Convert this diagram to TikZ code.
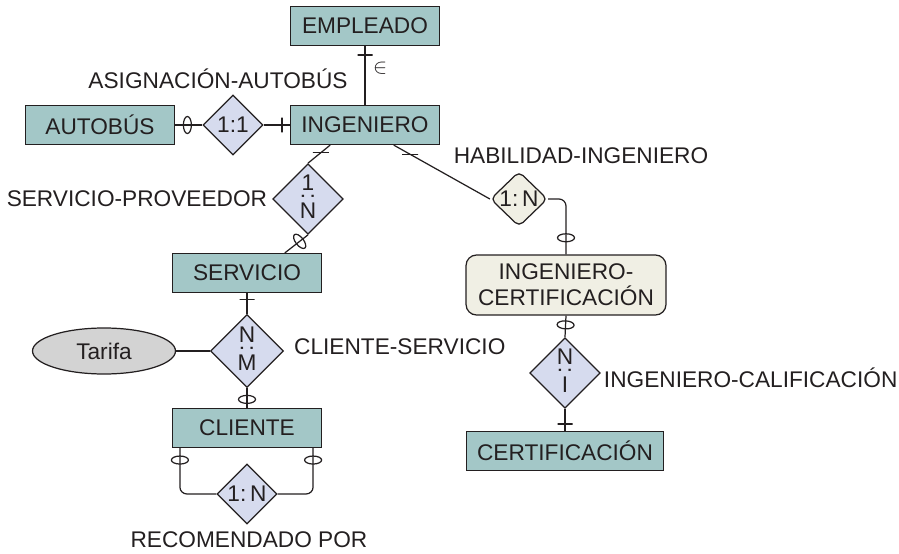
\documentclass[tikz,border=0pt]{standalone}
\usepackage{fontspec}
\setmainfont{Liberation Sans}
\usetikzlibrary{shapes.geometric,positioning}
\definecolor{entfill}{RGB}{163,199,199}
\definecolor{relfill}{RGB}{214,219,238}
\definecolor{assocfill}{RGB}{240,239,228}
\definecolor{attrfill}{RGB}{211,211,211}
\definecolor{inkc}{RGB}{35,31,32}
% ratio written top to bottom
\newcommand{\vratio}[2]{\begin{tabular}{@{}c@{}}#1\\[-9.8pt]\rotatebox{90}{:}\\[-4.4pt]#2\end{tabular}}
\tikzset{
  entity/.style={draw=inkc, fill=entfill, line width=0.7pt, minimum width=2.98cm, minimum height=0.78cm, inner sep=0pt},
  assoc/.style={draw=inkc, fill=assocfill, line width=0.7pt, rounded corners=6pt, align=center, minimum width=4cm, minimum height=1.2cm, inner sep=0pt},
  relation/.style={diamond, draw=inkc, fill=relfill, line width=0.7pt, minimum width=1.2cm, minimum height=1.2cm, inner sep=0pt},
  attribute/.style={ellipse, draw=inkc, fill=attrfill, line width=0.7pt, minimum width=2.86cm, minimum height=0.92cm, inner sep=0pt},
  rname/.style={inner sep=1pt},
  link/.style={draw=inkc, line width=0.7pt},
  onebar/.style={sloped, draw=inkc, line width=0.7pt, inner sep=0pt, minimum width=0pt, minimum height=0.3cm},
  flatbar/.style={draw=inkc, line width=0.7pt, inner sep=0pt, minimum width=0.32cm, minimum height=0pt},
  zeroring/.style={sloped, ellipse, draw=inkc, line width=0.7pt, inner sep=0pt, minimum width=0.16cm, minimum height=0.34cm},
}
\begin{document}
\begin{tikzpicture}[x=0.02cm, y=-0.02cm, font=\fontsize{12.9}{15}\selectfont, text=inkc]
  \useasboundingbox (0,0) rectangle (899,554);

  % Drawing entities
  \node[entity] (empleado) at (365,26) {EMPLEADO};
  \node[entity] (ingeniero) at (365,125) {INGENIERO};
  \node[entity] (autobus) at (100,125) {AUTOBÚS};
  \node[entity] (servicio) at (247,273) {SERVICIO};
  \node[entity] (cliente) at (247,428) {CLIENTE};
  \node[entity, minimum width=3.94cm] (certificacion) at (565,451) {CERTIFICACIÓN};
  \node[assoc] (ingcert) at (566,285) {INGENIERO-\\CERTIFICACIÓN};

  % Drawing relationships
  \node[relation] (asignacion) at (233,125) {1:1};
  \node[relation] (proveedor) at (308,199) {\vratio{1}{N}};
  \node[relation, fill=assocfill, rounded corners=3pt, minimum width=1.14cm, minimum height=1.1cm] (habilidad) at (519,199) {1:\,N};
  \node[relation] (calificacion) at (565,373) {\vratio{N}{I}};
  \node[relation] (clienteserv) at (247,351) {\vratio{N}{M}};
  \node[relation] (recomendado) at (247,494) {1:\,N};

  % Drawing attribute
  \node[attribute] (tarifa) at (104,351) {Tarifa};

  % Marking relationship names
  \node[rname] (asignacionlbl) at (218,79) {ASIGNACIÓN-AUTOBÚS};
  \node[rname, left=0.06cm of proveedor] (proveedorlbl) {SERVICIO-PROVEEDOR};
  \node[rname] (habilidadlbl) at (581,156) {HABILIDAD-INGENIERO};
  \node[rname, right=0.02cm of calificacion, yshift=-0.1cm] (calificacionlbl) {INGENIERO-CALIFICACIÓN};
  \node[rname, right=0.16cm of clienteserv, yshift=0.08cm] (clienteservlbl) {CLIENTE-SERVICIO};
  \node[rname] (recomendadolbl) at (249,540) {RECOMENDADO POR};

  % Drawing line empleado ingeniero
  \draw[link] (empleado.south) -- node[onebar, pos=0.15] {} node[pos=0.38, right=1pt] (inmark) {$\in$} (ingeniero.north);

  % Drawing line autobus asignacion ingeniero
  \draw[link] (autobus.east) -- node[zeroring, pos=0.45] {} (asignacion.west);
  \draw[link] (asignacion.east) -- node[onebar, pos=0.7] {} (ingeniero.west);

  % Drawing line ingeniero proveedor servicio
  \draw[link] (ingeniero.210) -- node[flatbar, pos=0.42] {} (proveedor.north);
  \draw[link] (proveedor.south) -- node[zeroring, pos=0.36] {} (servicio.28);

  % Drawing line ingeniero habilidad ingcert
  \draw[link] (ingeniero.-35) -- node[flatbar, pos=0.17] {} (habilidad.west);
  \draw[link, rounded corners=4pt] (habilidad.east) -| node[zeroring, pos=0.85] {} (ingcert.north);

  % Drawing line ingcert calificacion certificacion
  \draw[link] (ingcert.south) -- node[zeroring, pos=0.43] {} (calificacion.north);
  \draw[link] (calificacion.south) -- node[onebar, pos=0.69] {} (certificacion.north);

  % Drawing line servicio clienteserv cliente
  \draw[link] (servicio.south) -- node[onebar, pos=0.32] {} (clienteserv.north);
  \draw[link] (clienteserv.south) -- node[zeroring, pos=0.57] {} (cliente.north);
  \draw[link] (tarifa.east) -- (clienteserv.west);

  % Drawing loop cliente recomendado
  \draw[link, rounded corners=4pt] ([xshift=0.16cm]cliente.south west) |- node[zeroring, pos=0.13] {} (recomendado.west);
  \draw[link, rounded corners=4pt] ([xshift=-0.18cm]cliente.south east) |- node[zeroring, pos=0.13] {} (recomendado.east);
\end{tikzpicture}
\end{document}
